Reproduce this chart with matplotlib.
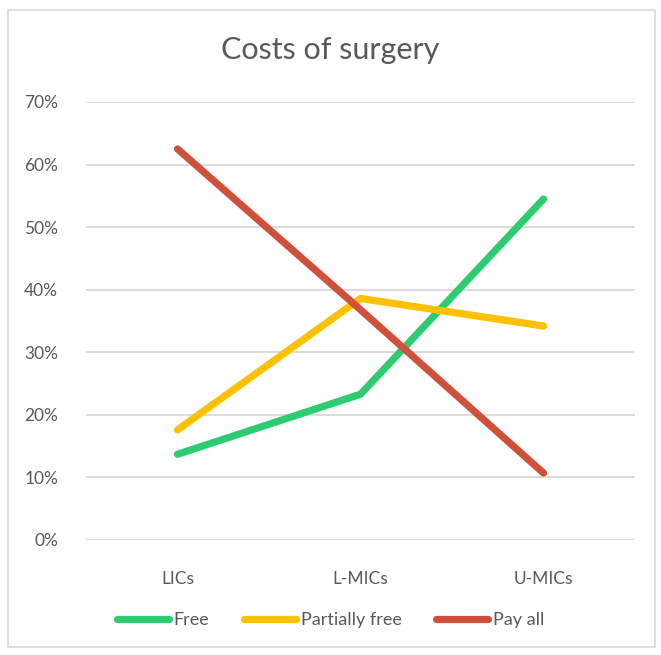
import matplotlib
matplotlib.use("Agg")
import matplotlib.pyplot as plt
from matplotlib.patches import Rectangle
from matplotlib.ticker import PercentFormatter

categories = ["LICs", "L-MICs", "U-MICs"]
free = [13.7, 23.3, 54.5]
partially_free = [17.6, 38.6, 34.2]
pay_all = [62.5, 36.8, 10.7]
y_ticks = [0, 10, 20, 30, 40, 50, 60, 70]

text_color = "#595959"
grid_color = "#D9D9D9"
plt.rcParams["font.family"] = ["Lato", "DejaVu Sans"]

W, H = 661, 655
fig = plt.figure(figsize=(W / 100, H / 100), dpi=100)
fig.patch.set_facecolor("white")

# outer chart border
fig.patches.append(Rectangle((8 / W, 1 - 647 / H), (655 - 8) / W, (647 - 10) / H,
                             transform=fig.transFigure, fill=False,
                             edgecolor=grid_color, linewidth=1.2))

ax = fig.add_axes([86 / W, 1 - 540 / H, (635 - 86) / W, (540 - 102) / H])
x = range(len(categories))
series = [("Free", free, "#2ECC71"),
          ("Partially free", partially_free, "#FFC000"),
          ("Pay all", pay_all, "#D0513B")]
for name, vals, col in series:
    ax.plot(x, vals, color=col, linewidth=5.2, solid_capstyle="round",
            solid_joinstyle="round", label=name, zorder=3)

ax.set_xlim(-0.5, 2.5)
ax.set_ylim(0, 70)
ax.set_yticks(y_ticks)
ax.yaxis.set_major_formatter(PercentFormatter(decimals=0))
ax.set_xticks(list(x))
ax.set_xticklabels(categories)
ax.grid(axis="y", color=grid_color, linewidth=1.3)
ax.set_axisbelow(True)
for s in ax.spines.values():
    s.set_visible(False)
ax.tick_params(axis="both", length=0, colors=text_color, labelsize=12.5)
ax.tick_params(axis="y", pad=20)
ax.tick_params(axis="x", pad=22)

fig.text(0.5, 1 - 50 / H, "Costs of surgery", ha="center", va="center",
         fontsize=22, color=text_color)

fig.legend(loc="center", bbox_to_anchor=(0.5, 1 - 620 / H), ncol=3, frameon=False,
           fontsize=13, labelcolor=text_color, handlelength=2.9,
           handletextpad=0.25, columnspacing=1.9)

fig.savefig("out.png", dpi=100, facecolor="white")
